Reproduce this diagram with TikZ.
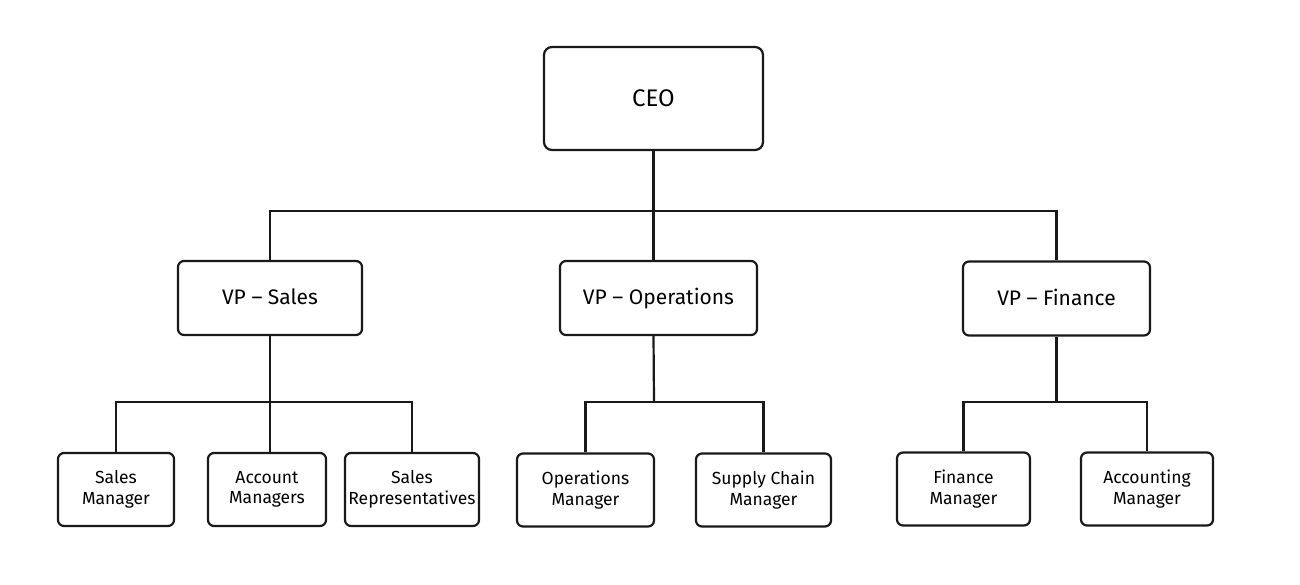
\documentclass[tikz,border=0pt]{standalone}
\usepackage{fontspec}
\setmainfont{Fira Sans}
\begin{document}
\begin{tikzpicture}[x=1pt,y=-1pt,
  box/.style={draw=black!90, line width=2.2pt, rounded corners=6pt, inner sep=0pt, align=center, fill=white},
  topbox/.style={box, rounded corners=8pt, font=\fontsize{24}{28}\selectfont},
  midbox/.style={box, font=\fontsize{21}{25}\selectfont, minimum height=74pt, text depth=0.25em},
  lowbox/.style={box, font=\fontsize{17.5}{20.5}\selectfont, minimum height=73pt},
  link/.style={draw=black!90, line width=2.2pt}]
\useasboundingbox[fill=white] (0,0) rectangle (1300,584);
\node[topbox, minimum width=219pt, minimum height=103pt] (ceo) at (653.5,98.5) {CEO};
\node[midbox, minimum width=184pt] (vps) at (270,298) {VP -- Sales};
\node[midbox, minimum width=197pt] (vpo) at (658.5,298) {VP -- Operations};
\node[midbox, minimum width=187pt] (vpf) at (1056.5,298.5) {VP -- Finance};
\node[lowbox, minimum width=116pt] (sm) at (116,489.5) {Sales\\Manager};
\node[lowbox, minimum width=118pt] (am) at (267,489.5) {Account\\Managers};
\node[lowbox, minimum width=134pt] (sr) at (412,489.5) {Sales\\Representatives};
\node[lowbox, minimum width=137pt] (om) at (585.5,490) {Operations\\Manager};
\node[lowbox, minimum width=135pt] (sc) at (763.5,490) {Supply Chain\\Manager};
\node[lowbox, minimum width=133pt] (fm) at (963.5,489) {Finance\\Manager};
\node[lowbox, minimum width=132pt] (ac) at (1147,489) {Accounting\\Manager};
\coordinate (bus) at (653.5,211);
\coordinate (sb) at (270,402);
\coordinate (ob) at (654,402);
\coordinate (fb) at (1056.5,402);
\draw[link] (ceo.south) -- (ceo.south |- vpo.north);
\draw[link] (vps.north) |- (bus) -| (vpf.north);
\draw[link] (vps.south) -- (vps.south |- am.north);
\draw[link] (sm.north) |- (sb) -| (sr.north);
\draw[link] (ceo.south |- vpo.south) -- (ob);
\draw[link] (om.north) |- (ob) -| (sc.north);
\draw[link] (vpf.south) -- (fb);
\draw[link] (fm.north) |- (fb) -| (ac.north);
\end{tikzpicture}
\end{document}
